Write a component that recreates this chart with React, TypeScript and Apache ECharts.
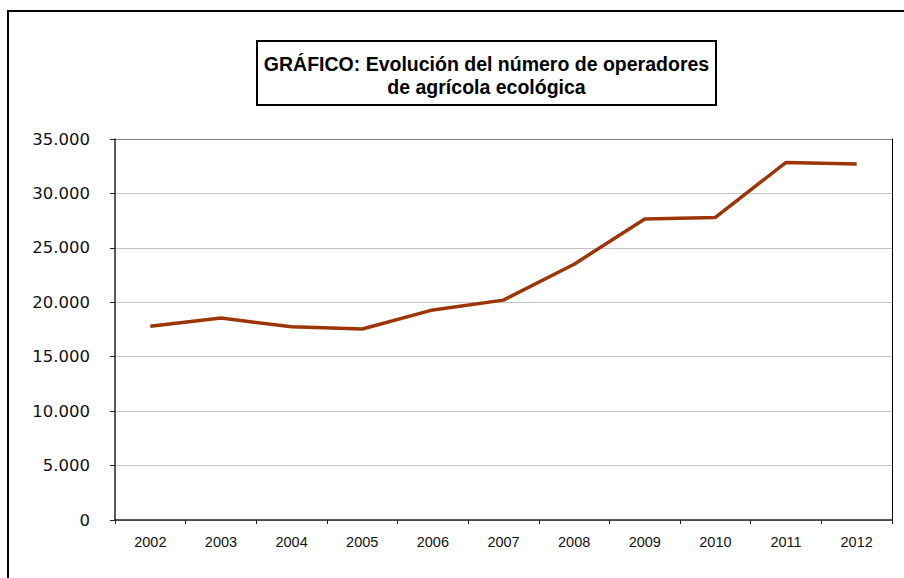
import React, { useEffect, useRef } from "react";
import * as echarts from "echarts";

const years = ["2002", "2003", "2004", "2005", "2006", "2007", "2008", "2009", "2010", "2011", "2012"];
const operators = [17800, 18550, 17750, 17550, 19300, 20200, 23500, 27650, 27800, 32850, 32700];
const yMin = 0;
const yMax = 35000;
const yStep = 5000;
const titleLines = ["GRÁFICO: Evolución del número de operadores", "de agrícola ecológica"];

const fmt = (v: number) => String(Math.round(v)).replace(/\B(?=(\d{3})+(?!\d))/g, ".");

export default function App() {
  const ref = useRef<HTMLDivElement>(null);
  useEffect(() => {
    if (!ref.current) return;
    const chart = echarts.init(ref.current, undefined, { renderer: "svg" });
    const gridColors = Array.from({ length: (yMax - yMin) / yStep + 1 }, (_, i) =>
      i === (yMax - yMin) / yStep ? "#808080" : "#c4c4c4"
    );
    chart.setOption({
      animation: false,
      backgroundColor: "#ffffff",
      textStyle: { fontFamily: "'Liberation Sans', Arial, sans-serif" },
      grid: { left: 115, right: 12, top: 139, bottom: 58, containLabel: false },
      graphic: [
        {
          type: "rect",
          shape: { x: 8, y: 11, width: 1200, height: 1200 },
          style: { fill: "none", stroke: "#000", lineWidth: 2 },
          silent: true,
          z: 0,
        },
        {
          type: "rect",
          shape: { x: 257, y: 41, width: 459, height: 64 },
          style: { fill: "#fff", stroke: "#000", lineWidth: 2 },
          silent: true,
          z: 10,
        },
        {
          type: "text",
          x: 486.5,
          y: 75,
          z: 11,
          style: {
            text: titleLines.join("\n"),
            fill: "#000",
            font: "bold 19.5px 'Liberation Sans', Arial, sans-serif",
            align: "center",
            verticalAlign: "middle",
            lineHeight: 23,
          },
        },
      ],
      xAxis: {
        type: "category",
        data: years,
        boundaryGap: true,
        axisLine: { show: true, lineStyle: { color: "#222", width: 1.5 } },
        axisTick: { show: true, alignWithLabel: false, length: 4, lineStyle: { color: "#222" } },
        axisLabel: {
          margin: 14,
          color: "#111",
          fontSize: 14.5,
          fontFamily: "'Liberation Sans', Arial, sans-serif",
        },
        splitLine: { show: false },
      },
      yAxis: [
        {
          type: "value",
          min: yMin,
          max: yMax,
          interval: yStep,
          axisLine: { show: true, lineStyle: { color: "#222", width: 1.5 } },
          axisTick: { show: true, length: 5, lineStyle: { color: "#222" } },
          axisLabel: {
            margin: 25,
            color: "#111",
            fontSize: 16.5,
            fontFamily: "'DejaVu Sans', sans-serif",
            formatter: (v: number) => fmt(v),
          },
          splitLine: { show: true, lineStyle: { color: gridColors, width: 1 } },
        },
        {
          type: "value",
          position: "right",
          min: yMin,
          max: yMax,
          interval: yStep,
          axisLine: { show: true, lineStyle: { color: "#000", width: 1 } },
          axisTick: { show: false },
          axisLabel: { show: false },
          splitLine: { show: false },
        },
      ],
      series: [
        {
          type: "line",
          data: operators,
          yAxisIndex: 0,
          showSymbol: false,
          symbol: "none",
          lineStyle: { color: "#9c3606", width: 3.5 },
          itemStyle: { color: "#9c3606" },
        },
      ],
    });
    return () => chart.dispose();
  }, []);
  return (
    <div
      ref={ref}
      style={{ position: "fixed", left: 0, top: 0, width: 904, height: 578, background: "#fff" }}
    />
  );
}
